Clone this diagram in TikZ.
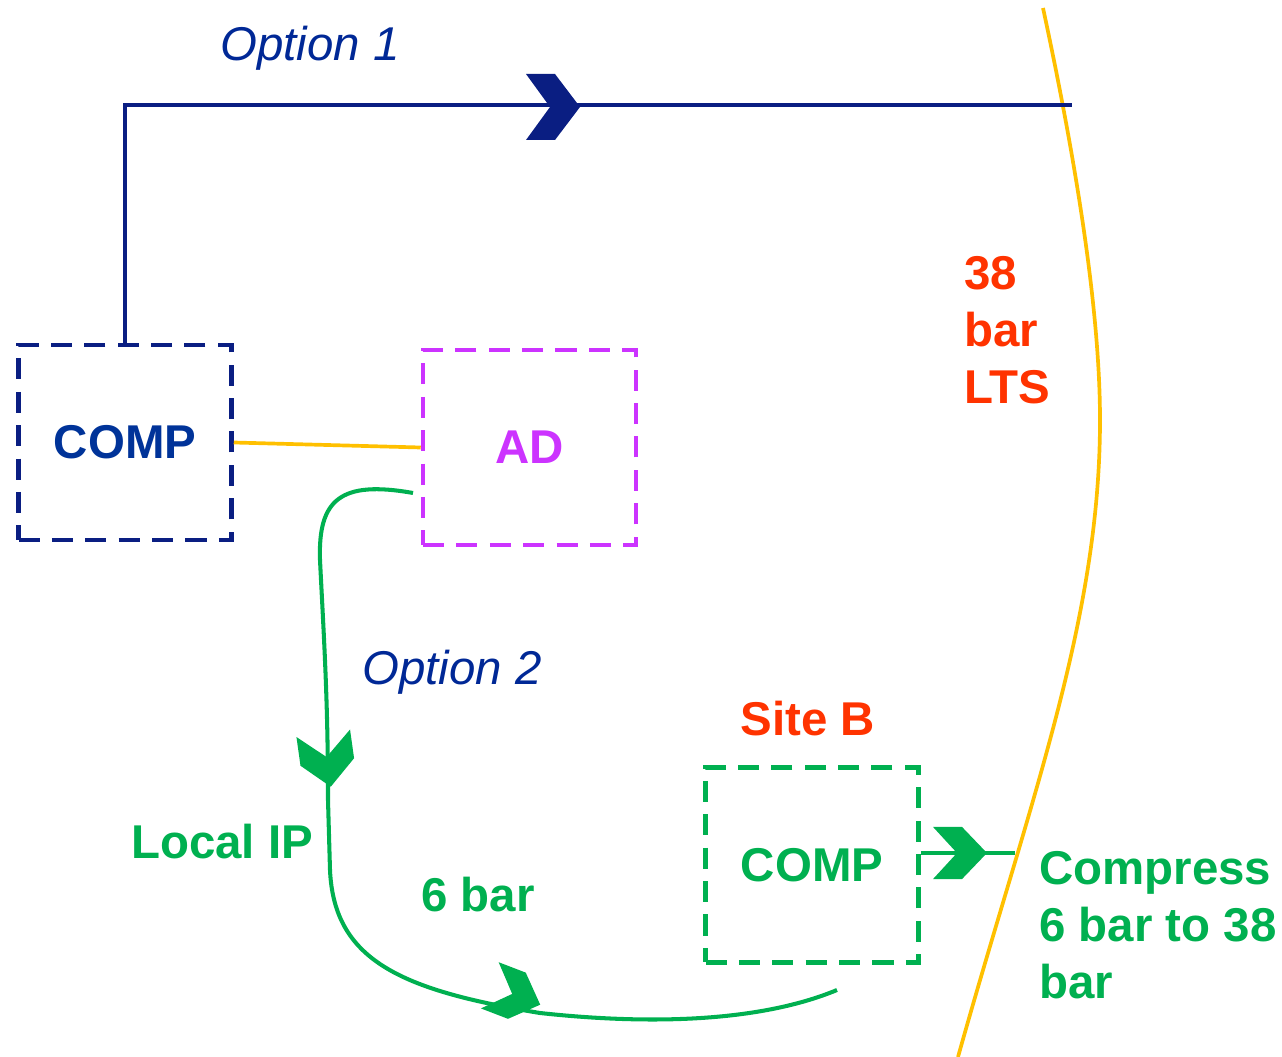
\documentclass[tikz,border=0pt]{standalone}
\usepackage{fontspec}
\setmainfont{Liberation Sans}
\definecolor{Navy}{RGB}{10, 30, 130}
\definecolor{CompBlue}{RGB}{0, 51, 153}
\definecolor{OptBlue}{RGB}{0, 40, 150}
\definecolor{LeafGreen}{RGB}{0, 176, 80}
\definecolor{Amber}{RGB}{255, 192, 0}
\definecolor{Flame}{RGB}{255, 51, 0}
\definecolor{Violet}{RGB}{204, 51, 255}
\usetikzlibrary{positioning, calc}
\tikzset{
  chevron/.pic={\fill (-27,-33) -- (2,-33) -- (27,0) -- (2,33) -- (-27,33) -- (-3,0) -- cycle;}
}

\begin{document}
\begin{tikzpicture}[x=0.02cm, y=-0.02cm,
  every node/.style={font=\fontsize{27}{32.5}\selectfont, align=left},
  dashbox/.style={draw, line width=2.6pt, dash pattern=on 12pt off 7pt,
                  minimum width=4.26cm, minimum height=3.9cm, inner sep=0pt},
  bold/.style={font=\fontsize{27}{32.5}\selectfont\bfseries},
  opt/.style={font=\fontsize{27}{32.5}\selectfont\itshape, text=OptBlue}]
\useasboundingbox (0,0) rectangle (1282,1057);

% boxes
\node[dashbox, draw=Navy, bold, text=CompBlue] (cb) at (125,442.5) {COMP};
\node[dashbox, draw=Violet, bold, text=Violet] (ad) at (529.5,447.5) {AD};
\node[dashbox, draw=LeafGreen, bold, text=LeafGreen] (gc) at (812,865) {COMP};

% labels
\node[opt] (o1) at (310,48) {Option 1};
\node[opt] (o2) at (452,672) {Option 2};
\node[bold, text=Flame, anchor=west] (lts) at (958,330) {38\\bar\\LTS};
\node[bold, text=Flame] (sb) at (808,719) {Site B};
\node[bold, text=LeafGreen] (lip) at (222,842) {Local IP};
\node[bold, text=LeafGreen] (six) at (478,895) {6 bar};
\node[bold, text=LeafGreen, anchor=west] (cmpr) at (1033,925) {Compress\\6 bar to 38\\bar};

% pipeline boundary
\draw[Amber, line width=2.1pt] (1043,8) .. controls (1080,180) and (1100,320) .. (1100,420)
  .. controls (1100,620) and (1030,800) .. (958,1057);

% option 1
\coordinate (p1) at (1072,105);
\draw[Navy, line width=2.5pt] (cb.north) |- (p1);
\pic[Navy] at (553,107) {chevron};

% link COMP - AD
\draw[Amber, line width=2.1pt] (cb.east) -- (ad.west);

% option 2
\coordinate (g0) at (413,493);
\coordinate (g1) at (837,990);
\draw[LeafGreen, line width=2.3pt] (g0) .. controls (340,480) and (318,500) .. (320,560)
  .. controls (324,640) and (328,700) .. (328,800)
  -- (330,870) .. controls (334,960) and (400,990) .. (540,1013)
  .. controls (650,1025) and (760,1022) .. (g1);
\pic[LeafGreen, rotate=-82, yscale=0.82] at (327,760) {chevron};
\pic[LeafGreen, rotate=-21, yscale=0.75] at (515,995) {chevron};

% compress to LTS
\coordinate (c1) at (1015,853);
\draw[LeafGreen, line width=2.3pt] (gc.east |- c1) -- (c1);
\pic[LeafGreen, yscale=0.79] at (960,853) {chevron};
\end{tikzpicture}
\end{document}
